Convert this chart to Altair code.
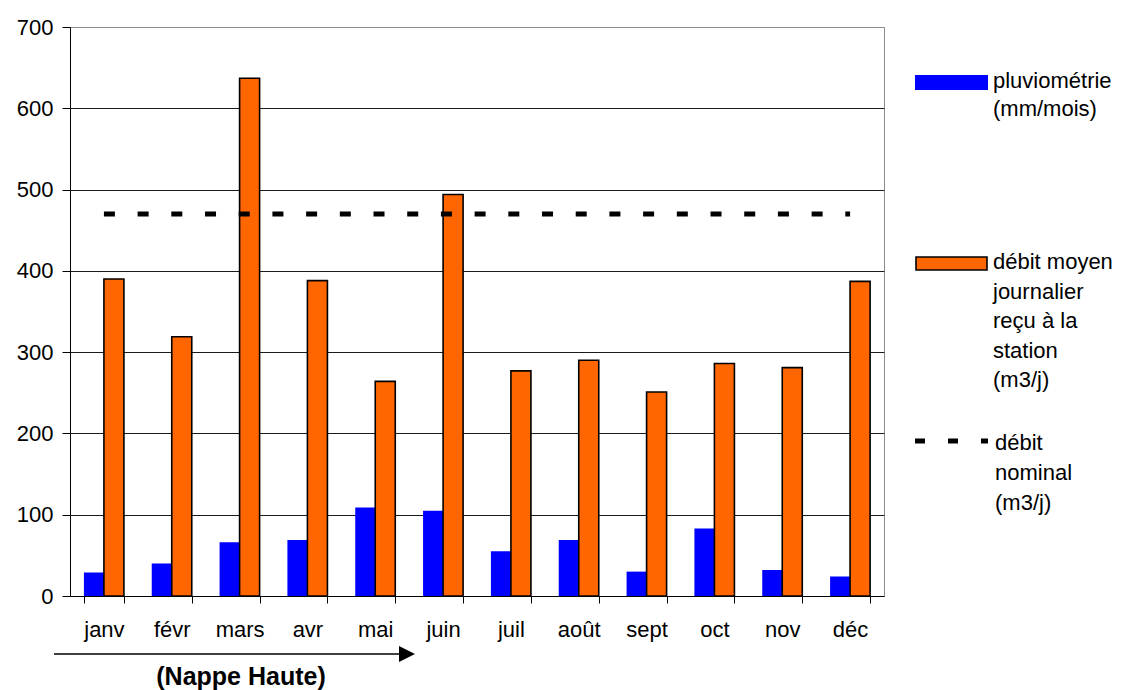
import altair as alt
import pandas as pd

# ---- data ----
months = ["janv", "févr", "mars", "avr", "mai", "juin",
          "juil", "août", "sept", "oct", "nov", "déc"]
rain = [29, 40, 66, 69, 109, 105, 55, 69, 30, 83, 32, 24]          # pluviométrie (mm/mois)
flow = [390, 319, 637, 388, 264, 494, 277, 290, 251, 286, 281, 387]  # débit moyen journalier (m3/j)
nominal = [470, 470, 470, 470, 470, 470, 470, 470, 470, 470, 470, 470]  # débit nominal (m3/j)
y_ticks = [0, 100, 200, 300, 400, 500, 600, 700]

series_keys = ["pluie", "debit"]
series_colors = ["#0000FF", "#FF6600"]
legend_rain = ["pluviométrie", "(mm/mois)"]
legend_flow = ["débit moyen", "journalier", "reçu à la", "station", "(m3/j)"]
legend_nominal = ["débit", "nominal", "(m3/j)"]
arrow_label = "(Nappe Haute)"

FONT = "Liberation Sans"
FS = 22

df = pd.DataFrame({"mois": months, "pluie": rain, "debit": flow, "nominal": nominal})
one = alt.Data(values=[{"k": 0}])

x_enc = alt.X(
    "mois:N",
    sort=months,
    scale=alt.Scale(paddingInner=0.41, paddingOuter=0.205),
    axis=alt.Axis(
        title=None, labelAngle=0, tickBand="extent", tickSize=7, tickColor="black",
        domainColor="black", labelColor="black", labelFont=FONT, labelFontSize=FS,
        labelPadding=16, grid=False,
    ),
)
y_axis = alt.Axis(
    values=y_ticks, title=None, tickSize=8, tickColor="black", domainColor="black",
    labelColor="black", labelFont=FONT, labelFontSize=FS, labelPadding=9,
    grid=True, gridWidth=1,
    gridColor={"condition": {"test": "datum.value >= 700", "value": "#8c8c8c"}, "value": "#1a1a1a"},
)
y_scale = alt.Scale(domain=[0, 700], nice=False)

bars = alt.Chart(df).transform_fold(series_keys, as_=["serie", "valeur"]).mark_bar(
    stroke="black"
).encode(
    x=x_enc,
    xOffset=alt.XOffset("serie:N", sort=series_keys, scale=alt.Scale(paddingInner=0, paddingOuter=0)),
    y=alt.Y("valeur:Q", scale=y_scale, axis=y_axis),
    color=alt.Color("serie:N", scale=alt.Scale(domain=series_keys, range=series_colors), legend=None),
    strokeWidth=alt.condition("datum.serie == 'debit'", alt.value(1.6), alt.value(0)),
)

line = alt.Chart(df).mark_line(
    color="black", strokeWidth=5, strokeDash=[11, 22.7], strokeCap="butt"
).encode(
    x=alt.X("mois:N", sort=months),
    y=alt.Y("nominal:Q", scale=y_scale),
)

# ---- legend (drawn by hand at the right) ----
leg_rain_sym = alt.Chart(one).mark_rect(color="#0000FF").encode(
    x=alt.value(845), x2=alt.value(918), y=alt.value(48), y2=alt.value(63))
leg_rain_txt = alt.Chart(one).mark_text(
    text=legend_rain, align="left", baseline="top", lineHeight=28, font=FONT, fontSize=FS, color="black"
).encode(x=alt.value(923), y=alt.value(44))

leg_flow_sym = alt.Chart(one).mark_rect(color="#FF6600", stroke="black", strokeWidth=1.6).encode(
    x=alt.value(846), x2=alt.value(917), y=alt.value(230), y2=alt.value(243))
leg_flow_txt = alt.Chart(one).mark_text(
    text=legend_flow, align="left", baseline="top", lineHeight=29.5, font=FONT, fontSize=FS, color="black"
).encode(x=alt.value(923), y=alt.value(225))

leg_nom_sym = alt.Chart(one).mark_rule(
    color="black", strokeWidth=5, strokeDash=[10, 23], strokeCap="butt"
).encode(x=alt.value(845), x2=alt.value(918), y=alt.value(414))
leg_nom_txt = alt.Chart(one).mark_text(
    text=legend_nominal, align="left", baseline="top", lineHeight=30, font=FONT, fontSize=FS, color="black"
).encode(x=alt.value(925), y=alt.value(406))

# ---- arrow + "(Nappe Haute)" under the axis ----
arrow_line = alt.Chart(one).mark_rule(color="black", strokeWidth=1.5).encode(
    x=alt.value(-16), x2=alt.value(331), y=alt.value(627))
arrow_head = alt.Chart(one).mark_point(
    shape="M-1,-1L1,0L-1,1Z", size=256, filled=True, color="black", opacity=1
).encode(x=alt.value(337), y=alt.value(627))
arrow_txt = alt.Chart(one).mark_text(
    text=arrow_label, fontWeight="bold", font=FONT, fontSize=25, align="center",
    baseline="middle", color="black"
).encode(x=alt.value(171), y=alt.value(650))

chart = alt.layer(
    bars, line,
    leg_rain_sym, leg_rain_txt, leg_flow_sym, leg_flow_txt, leg_nom_sym, leg_nom_txt,
    arrow_line, arrow_head, arrow_txt,
).properties(
    width=814, height=569,
    autosize=alt.AutoSizeParams(type="none"),
    padding={"left": 62, "top": 19, "right": 240, "bottom": 94},
    background="white",
).configure_view(stroke="#8c8c8c", strokeWidth=1)

chart.save("out.html", embed_options={"renderer": "svg", "actions": False})
